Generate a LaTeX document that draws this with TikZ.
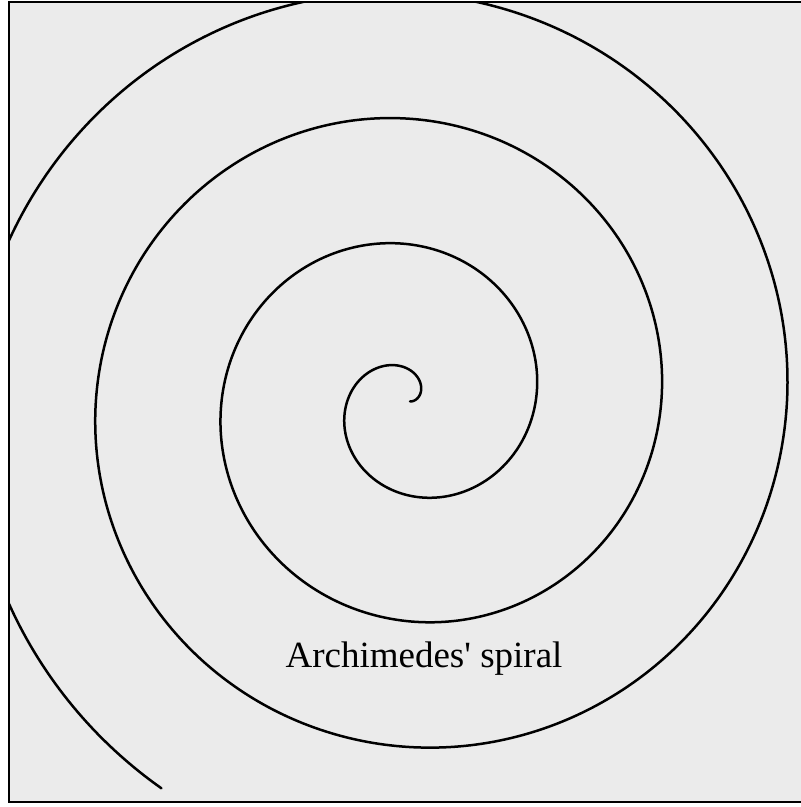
\documentclass[tikz,border=0pt]{standalone}
\usepackage{fontspec}
\newfontfamily\capfont{Liberation Serif}[Ligatures=TeXOff]
\tikzset{
  spiralline/.style={line width=2.5pt, black, line join=round, line cap=round},
  frameline/.style={line width=2.6pt, black},
  paper/.style={fill=gray!16},
  captext/.style={anchor=base, font=\capfont\fontsize{37}{42}\selectfont, inner sep=0pt}
}
\begin{document}
\begin{tikzpicture}[x=1pt,y=1pt]
\useasboundingbox (0,0) rectangle (801,807);
\fill[paper] (9,5) rectangle (801,805);
\begin{scope}
  \clip (9,5) rectangle (801,805);
  \draw[spiralline] plot[domain=0:23, samples=1400, variable=\t]
    ({410+20*\t*cos(\t r)}, {405.5+20*\t*sin(\t r)});
\end{scope}
\draw[frameline] (801,805) -- (9,805) -- (9,5) -- (801,5);
\node[captext] (title) at (424,139) {Archimedes' spiral};
\end{tikzpicture}
\end{document}
